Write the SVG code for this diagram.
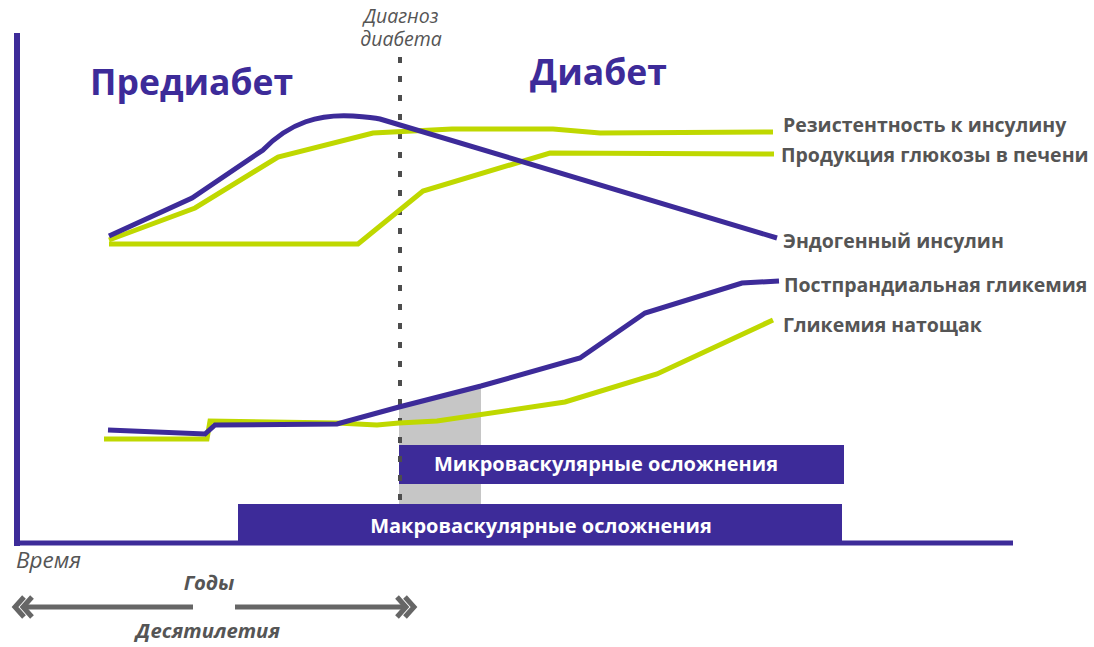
<svg xmlns="http://www.w3.org/2000/svg" width="1094" height="647" viewBox="0 0 1094 647">
<style>
.pl{fill:none;stroke:#3d2b99;stroke-width:5;stroke-linejoin:miter}
.gl{fill:none;stroke:#bfd800;stroke-width:5;stroke-linejoin:miter}
.lab{font-family:"Open Sans","Liberation Sans",sans-serif;font-weight:bold;font-size:19.5px;fill:#555}
.big{font-family:"Open Sans","Liberation Sans",sans-serif;font-weight:bold;font-size:35.5px;fill:#3d2b99}
.bar{fill:#3d2b99}
.bt{font-family:"Open Sans","Liberation Sans",sans-serif;font-weight:bold;font-size:20px;fill:#fff}
.it{font-family:"Open Sans","Liberation Sans",sans-serif;font-style:italic;font-size:19.5px;fill:#555}
.bi{font-family:"Open Sans","Liberation Sans",sans-serif;font-style:italic;font-weight:bold;font-size:20.3px;fill:#555}
.arr{fill:none;stroke:#666;stroke-width:5}
</style>
<rect width="1094" height="647" fill="#fff"/>
<g id="gray-area"><polygon points="399,406 481,385 481,504 399,504" fill="#c6c6c6"/></g>
<g id="axes">
<line x1="17" y1="33" x2="17" y2="546" stroke="#3d2b99" stroke-width="6"/>
<line x1="14" y1="543" x2="1013" y2="543" stroke="#3d2b99" stroke-width="5"/>
</g>
<g id="macro"><rect class="bar" x="238" y="504" width="604" height="38"/><text class="bt" x="541" y="533" text-anchor="middle">Макроваскулярные осложнения</text></g>
<g id="micro"><rect class="bar" x="399" y="445" width="445" height="39"/><text class="bt" x="606" y="471" text-anchor="middle">Микроваскулярные осложнения</text></g>
<g id="diagnosis-line"><line x1="400" y1="57" x2="400" y2="504" stroke="#4d4d4d" stroke-width="4" stroke-dasharray="6 13"/></g>
<g id="curves">
<polyline id="resistance" class="gl" points="109,240 195,208 278,157 373,133 452,129 553,129 600,133 773,132"/>
<polyline id="glucose" class="gl" points="109,244 358,244 423,191 550,153 774,154"/>
<path id="insulin" class="pl" d="M109,236 L192,198 L263,150 C290,122 320,114 353,116 C368,117 376,118 380,119 L777,238"/>
<polyline id="fasting" class="gl" points="104,439 207,439 210,421 337,423 377,425 399,423 437,421 565,402 657,374 773,320"/>
<polyline id="postprandial" class="pl" points="108,430 205,434 215,425 337,424 399,407 481,386 580,358 645,313 742,283 779,281"/>
</g>
<g id="titles">
<text class="big" x="90" y="95">Предиабет</text>
<text class="big" x="530" y="85">Диабет</text>
<text class="it" x="401" y="23" text-anchor="middle">Диагноз</text>
<text class="it" x="401" y="46" text-anchor="middle">диабета</text>
</g>
<g id="legend">
<text class="lab" x="783" y="132">Резистентность к инсулину</text>
<text class="lab" x="781" y="162">Продукция глюкозы в печени</text>
<text class="lab" x="783" y="248">Эндогенный инсулин</text>
<text class="lab" x="784" y="292">Постпрандиальная гликемия</text>
<text class="lab" x="783" y="332">Гликемия натощак</text>
</g>
<g id="time">
<text class="it" x="16" y="568" style="font-size:22.5px">Время</text>
<text class="bi" x="209" y="590" text-anchor="middle">Годы</text>
<text class="bi" x="208" y="638" text-anchor="middle">Десятилетия</text>
<line class="arr" x1="24" y1="607" x2="193" y2="607"/>
<line class="arr" x1="235" y1="607" x2="405" y2="607"/>
<polyline class="arr" points="24,597 15,607 24,617"/>
<polyline class="arr" points="32,597 23,607 32,617"/>
<polyline class="arr" points="397,597 406,607 397,617"/>
<polyline class="arr" points="405,597 414,607 405,617"/>
</g>
</svg>
